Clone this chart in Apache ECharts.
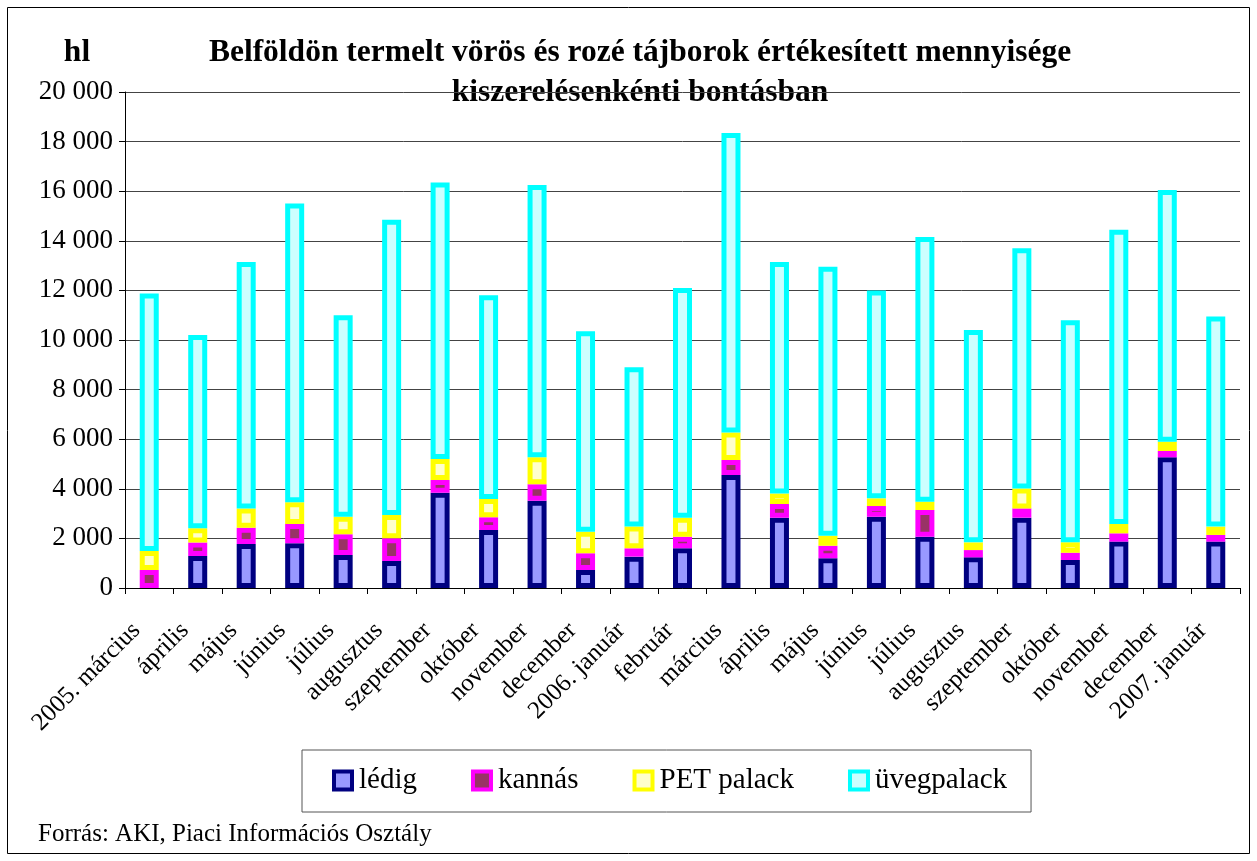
<!DOCTYPE html>
<html><head><meta charset="utf-8">
<script src="https://cdn.jsdelivr.net/npm/echarts@6/dist/echarts.min.js"></script>
<style>html,body{margin:0;padding:0;background:#fff}#c{width:1257px;height:861px}</style>
</head><body><div id="c"></div>
<script>
const categories = ['2005. március','április','május','június','július','augusztus','szeptember','október','november','december','2006. január','február','március','április','május','június','július','augusztus','szeptember','október','november','december','2007. január'];
const ledig   = [null,1290,1770,1800,1330,1090,3845,2340,3520,725,1265,1600,4555,2835,1195,2875,2070,1235,2835,1130,1870,5270,1870];
const kannas  = [730,540,660,780,835,915,510,510,660,675,335,470,605,550,510,430,1075,295,375,295,335,255,270];
const pet     = [760,580,780,875,710,940,845,740,1090,870,875,765,1115,430,405,310,335,310,805,415,375,375,335];
const uveg    = [10390,7790,9940,12045,8125,11905,11150,8210,10980,8080,6425,9265,12075,9335,10840,8385,10670,8560,9685,8960,11870,10150,8475];
const seriesNames = ['lédig','kannás','PET palack','üvegpalack'];
const yTicks = [0,2000,4000,6000,8000,10000,12000,14000,16000,18000,20000];

const font = 'Liberation Serif, Times New Roman, serif';
const styles = [
  {color:'#9999ff', borderColor:'#000080'},
  {color:'#993366', borderColor:'#ff00ff'},
  {color:'#ffffcc', borderColor:'#ffff00'},
  {color:'#ccffff', borderColor:'#00ffff'}
];
const dataSets = [ledig, kannas, pet, uveg];
const chart = echarts.init(document.getElementById('c'));
chart.setOption({
  animation:false,
  backgroundColor:'#fff',
  graphic:[
    {type:'rect', shape:{x:7.5,y:7.5,width:1242,height:846}, style:{fill:'none', stroke:'#000', lineWidth:1}, silent:true},
    {type:'text', x:640, y:53, style:{text:'Belföldön termelt vörös és rozé tájborok értékesített mennyisége', font:'bold 31.5px '+font, fill:'#000', textAlign:'center', textVerticalAlign:'middle'}},
    {type:'text', x:640, y:93, style:{text:'kiszerelésenkénti bontásban', font:'bold 31.5px '+font, fill:'#000', textAlign:'center', textVerticalAlign:'middle'}},
    {type:'text', x:77, y:53, style:{text:'hl', font:'bold 31.5px '+font, fill:'#000', textAlign:'center', textVerticalAlign:'middle'}},
    {type:'text', x:38, y:834, style:{text:'Forrás: AKI, Piaci Információs Osztály', font:'25px '+font, fill:'#000', textAlign:'left', textVerticalAlign:'middle'}}
  ],
  grid:{left:125, right:17, top:92, bottom:273, containLabel:false},
  xAxis:{
    type:'category', data:categories, boundaryGap:true,
    axisLine:{lineStyle:{color:'#000', width:1}},
    axisTick:{show:true, length:6, lineStyle:{color:'#000'}},
    axisLabel:{rotate:45, interval:0, fontFamily:font, fontSize:25, color:'#000', margin:26, padding:[0,18,0,0]}
  },
  yAxis:{
    type:'value', min:0, max:20000, interval:2000,
    axisLine:{show:true, lineStyle:{color:'#000'}},
    axisTick:{show:true, length:6, lineStyle:{color:'#000'}},
    splitLine:{lineStyle:{color:'#444', width:1}},
    axisLabel:{fontFamily:font, fontSize:27, color:'#000', margin:12,
      formatter:v=> yTicks.includes(v) ? String(v).replace(/\B(?=(\d{3})+(?!\d))/g,' ') : ''}
  },
  legend:{
    data:seriesNames, left:302, top:750,
    orient:'horizontal', itemGap:54, itemWidth:18, itemHeight:18,
    padding:[16,24,17,30],
    borderColor:'#555', borderWidth:1, backgroundColor:'#fff',
    itemStyle:{borderWidth:4},
    textStyle:{fontFamily:font, fontSize:29, color:'#000', lineHeight:18, padding:[0,0,0,2]},
    icon:'rect'
  },
  series: seriesNames.map((n,i)=>({
    name:n, type:'bar', stack:'total', data:dataSets[i], barWidth:19,
    itemStyle:{color:styles[i].color, borderColor:styles[i].borderColor, borderWidth:5}
  }))
});
</script></body></html>
